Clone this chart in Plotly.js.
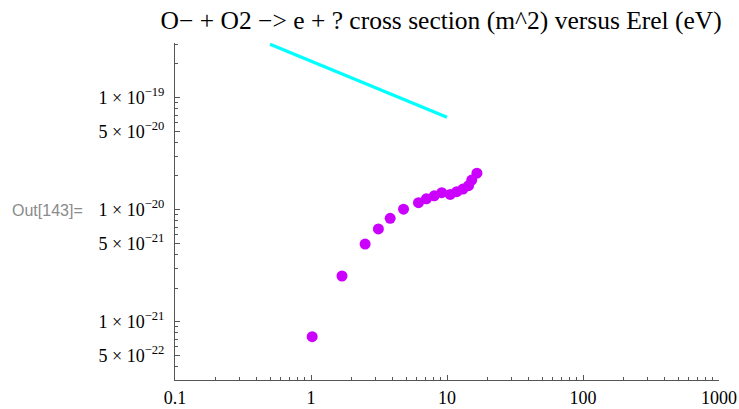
<!DOCTYPE html>
<html>
<head>
<meta charset="utf-8">
<script src="https://cdn.plot.ly/plotly-3.0.1.min.js"></script>
<style>html,body{margin:0;padding:0;background:#fff;}#chart{width:739px;height:409px;}</style>
</head>
<body>
<div id="chart"></div>
<script>
// Measured points: energy (eV) and cross section (m^2)
const energy = [1.02, 1.69, 2.50, 3.13, 3.82, 4.79, 6.17, 7.05, 8.05, 9.15, 10.56, 11.8, 13.1, 14.4, 15.2, 16.6];
const crossSection = [7.35e-22, 2.56e-21, 4.94e-21, 6.73e-21, 8.38e-21, 1.01e-20, 1.155e-20, 1.25e-20, 1.33e-20, 1.42e-20, 1.37e-20, 1.45e-20, 1.53e-20, 1.64e-20, 1.84e-20, 2.12e-20];
// Reference line (cyan)
const lineEnergy = [0.5, 10];
const lineCross = [3.0e-19, 6.7e-20];
// Tick values and labels
const xTickVals = [0.1, 1, 10, 100, 1000];
const xTickText = ["0.1", "1", "10", "100", "1000"];
const yTickVals = [1e-19, 5e-20, 1e-20, 5e-21, 1e-21, 5e-22];
const yTickText = ["1 × 10<sup>−19</sup>", "5 × 10<sup>−20</sup>", "1 × 10<sup>−20</sup>", "5 × 10<sup>−21</sup>", "1 × 10<sup>−21</sup>", "5 × 10<sup>−22</sup>"];
const xMinorVals = [0.2,0.3,0.4,0.5,0.6,0.7,0.8,0.9,2,3,4,5,6,7,8,9,20,30,40,50,60,70,80,90,200,300,400,500,600,700,800,900];
const yMinorVals = [3e-19,2e-19,9e-20,8e-20,7e-20,6e-20,4e-20,3e-20,2e-20,9e-21,8e-21,7e-21,6e-21,4e-21,3e-21,2e-21,9e-22,8e-22,7e-22,6e-22,4e-22,3e-22];

const traces = [
  {x: lineEnergy, y: lineCross, type: 'scatter', mode: 'lines',
   line: {color: '#00FFFF', width: 3.2}, hoverinfo: 'skip'},
  {x: energy, y: crossSection, type: 'scatter', mode: 'markers',
   marker: {color: '#CC00FF', size: 11}, cliponaxis: false}
];

const axisFont = {family: 'Liberation Serif, Times New Roman, serif', size: 18, color: '#000'};
const layout = {
  width: 739, height: 409,
  margin: {l: 175, r: 20, t: 43, b: 29, pad: 0},
  paper_bgcolor: '#fff', plot_bgcolor: '#fff',
  showlegend: false,
  title: {text: 'O− + O2 −> e + ? cross section (m^2) versus Erel (eV)',
          font: {family: 'Liberation Serif, Times New Roman, serif', size: 25.5, color: '#000'},
          x: 0.597, xanchor: 'center', xref: 'container', y: 0.952, yanchor: 'middle', yref: 'container'},
  xaxis: {type: 'log', range: [-1, 3], showgrid: false, zeroline: false,
          showline: true, linecolor: '#555', linewidth: 1, mirror: false,
          ticks: 'inside', ticklen: 5, tickwidth: 1, tickcolor: '#555',
          tickmode: 'array', tickvals: xTickVals, ticktext: xTickText,
          tickfont: axisFont, ticklabelstandoff: 1,
          minor: {tickmode: 'array', tickvals: xMinorVals, ticks: 'inside', ticklen: 3, tickcolor: '#555', tickwidth: 1, showgrid: false}},
  yaxis: {type: 'log', range: [-21.52, -18.512], showgrid: false, zeroline: false,
          showline: true, linecolor: '#555', linewidth: 1, mirror: false,
          ticks: 'inside', ticklen: 5, tickwidth: 1, tickcolor: '#555',
          tickmode: 'array', tickvals: yTickVals, ticktext: yTickText,
          tickfont: axisFont, ticklabelstandoff: 6,
          minor: {tickmode: 'array', tickvals: yMinorVals, ticks: 'inside', ticklen: 3, tickcolor: '#555', tickwidth: 1, showgrid: false}},
  annotations: [
    {text: 'Out[143]=', xref: 'paper', yref: 'paper', x: -0.3033, y: 0.504,
     xanchor: 'left', yanchor: 'middle', showarrow: false,
     font: {family: 'Liberation Sans, Arial, sans-serif', size: 16, color: '#8a8a8a'}}
  ]
};
Plotly.newPlot('chart', traces, layout, {displayModeBar: false, staticPlot: true});
</script>
</body>
</html>
